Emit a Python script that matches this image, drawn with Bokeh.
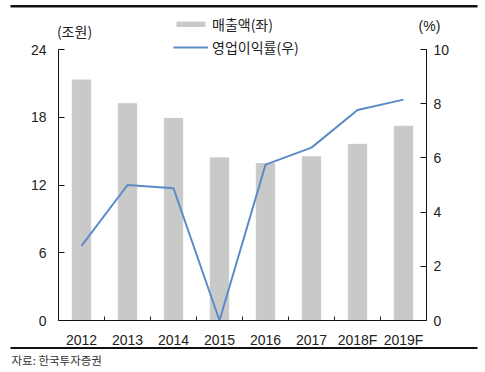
from bokeh.plotting import figure
from bokeh.models import (Legend, LegendItem, Label, LinearAxis, Range1d,
                          FixedTicker, ColumnDataSource, BoxAnnotation)
from bokeh.embed import file_html
from bokeh.resources import INLINE

years = ["2012", "2013", "2014", "2015", "2016", "2017", "2018F", "2019F"]
sales = [21.3, 19.2, 17.9, 14.4, 13.9, 14.5, 15.6, 17.2]       # 매출액 (조원, 좌)
op_margin = [2.75, 5.0, 4.88, 0.0, 5.75, 6.38, 7.77, 8.15]     # 영업이익률 (%, 우)
left_ticks = [0, 6, 12, 18, 24]
right_ticks = [0, 2, 4, 6, 8, 10]
LEFT_MAX, RIGHT_MAX = 24, 10

xs = list(range(len(years)))
src = ColumnDataSource(dict(x=xs, sales=sales, m=op_margin))

FONT = "Liberation Sans"
KFONT = "Noto Sans CJK KR"
TXT = "#222222"

# ---- layout geometry (page pixels) ----
W, H = 485, 370            # figure size, placed at page (0, 0)
PAGE0 = 0
X_FIRST, STEP = 81, 46     # centre of first category, category spacing
Y_ZERO, Y_TOP = 320, 49    # pixel of value 0 and LEFT_MAX
PPU = (Y_ZERO - Y_TOP) / LEFT_MAX


def dx(px):
    return (px - X_FIRST) / STEP


def dy(py):
    return (Y_ZERO - py) / PPU


x0, x1 = dx(PAGE0), dx(PAGE0 + W)
y0, y1 = dy(PAGE0 + H), dy(PAGE0)
k = RIGHT_MAX / LEFT_MAX

p = figure(width=W, height=H, x_range=Range1d(x0, x1), y_range=Range1d(y0, y1),
           output_backend="svg", toolbar_location=None,
           min_border=0, min_border_left=0, min_border_right=0,
           min_border_top=0, min_border_bottom=0)
p.extra_y_ranges = {"pct": Range1d(y0 * k, y1 * k)}
p.outline_line_color = None
p.xgrid.visible = False
p.ygrid.visible = False
p.background_fill_color = "white"
p.border_fill_color = "white"

bars = p.vbar(x="x", top="sales", width=0.4, source=src, color="#c9c9c9")
line = p.line(x="x", y="m", source=src, y_range_name="pct", color="#5b8bc7",
              line_width=2)

left_edge, right_edge = -0.5, len(years) - 0.5

# axes
xa = p.xaxis[0]
xa.fixed_location = 0
xa.bounds = (left_edge, right_edge)
xa.ticker = FixedTicker(ticks=xs, minor_ticks=[i + 0.5 for i in xs[:-1]])
xa.major_label_overrides = {i: y for i, y in zip(xs, years)}
xa.major_tick_line_color = None
xa.minor_tick_in = 4
xa.minor_tick_out = 0
xa.minor_tick_line_color = "#222222"
xa.axis_line_color = "#111111"
xa.major_label_text_font = FONT
xa.major_label_text_font_size = "14px"
xa.major_label_text_color = TXT
xa.major_label_standoff = 5

ya = p.yaxis[0]
ya.fixed_location = left_edge
ya.bounds = (0, LEFT_MAX)
ya.ticker = FixedTicker(ticks=left_ticks)
ya.major_tick_in = 6
ya.major_tick_out = 0
ya.minor_tick_line_color = None
ya.axis_line_color = "#111111"
ya.major_tick_line_color = "#111111"
ya.major_label_text_font = FONT
ya.major_label_text_font_size = "14px"
ya.major_label_text_color = TXT
ya.major_label_standoff = 12

ra = LinearAxis(y_range_name="pct", ticker=FixedTicker(ticks=right_ticks))
ra.fixed_location = right_edge
ra.bounds = (0, RIGHT_MAX)
ra.major_tick_in = 6
ra.major_tick_out = 0
ra.minor_tick_line_color = None
ra.axis_line_color = "#111111"
ra.major_tick_line_color = "#111111"
ra.major_label_text_font = FONT
ra.major_label_text_font_size = "14px"
ra.major_label_text_color = TXT
ra.major_label_standoff = 7
p.add_layout(ra, "right")

# unit labels
p.add_layout(Label(x=dx(74), y=dy(30.5), text="(조원)", text_font=KFONT,
                   text_font_size="14px", text_color=TXT,
                   text_align="center", text_baseline="middle"))
p.add_layout(Label(x=dx(429), y=dy(25.5), text="(%)", text_font=FONT,
                   text_font_size="14px", text_color=TXT,
                   text_align="center", text_baseline="middle"))

# top / bottom rules and source
p.add_layout(BoxAnnotation(left=dx(10), right=dx(477), top=dy(4.5), bottom=dy(7),
                           fill_color="#111111", fill_alpha=1, line_color=None))
p.add_layout(BoxAnnotation(left=dx(10), right=dx(477), top=dy(346.5),
                           bottom=dy(348.5), fill_color="#111111", fill_alpha=1,
                           line_color=None))
p.add_layout(Label(x=dx(11), y=dy(359.5), text="자료: 한국투자증권", text_font=KFONT,
                   text_font_size="11.5px", text_color="#333333",
                   text_align="left", text_baseline="middle"))

legend = Legend(items=[LegendItem(label="매출액(좌)", renderers=[bars]),
                       LegendItem(label="영업이익률(우)", renderers=[line])],
                location=(173, H - 57), padding=0, margin=0, spacing=3,
                glyph_width=35, glyph_height=6, label_height=20,
                label_standoff=4, border_line_color=None,
                background_fill_alpha=0, label_text_font=KFONT,
                label_text_font_size="14px", label_text_color=TXT)
p.add_layout(legend, "center")

open("out.html", "w").write(file_html(p, INLINE))
